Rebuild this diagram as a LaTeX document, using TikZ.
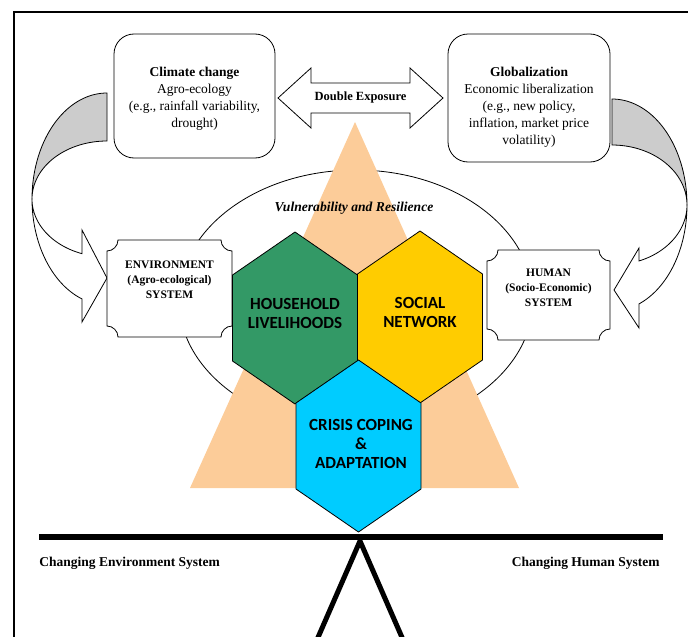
\documentclass[tikz,border=0pt]{standalone}
\usepackage{fontspec}
\setmainfont{Liberation Serif}
\newfontfamily\hexfont{Carlito}
\definecolor{tri}{RGB}{252,204,153}
\definecolor{hgreen}{RGB}{51,153,102}
\definecolor{hyellow}{RGB}{255,204,0}
\definecolor{hcyan}{RGB}{0,204,255}
\newcommand\myhex[3]{\filldraw[fill=#3, line width=0.8pt] (#1,{#2-86}) -- ({#1+62.5},{#2-43}) -- ({#1+62.5},{#2+43}) -- (#1,{#2+86}) -- ({#1-62.5},{#2+43}) -- ({#1-62.5},{#2-43}) -- cycle;}
\newcommand\plaque[4]{\filldraw[fill=white, line width=0.8pt] ({#1+11},#2) -- ({#3-11},#2) .. controls ({#3-11},{#2+6}) and ({#3-6},{#2+11}) .. (#3,{#2+11}) -- (#3,{#4-11}) .. controls ({#3-6},{#4-11}) and ({#3-11},{#4-6}) .. ({#3-11},#4) -- ({#1+11},#4) .. controls ({#1+11},{#4-6}) and ({#1+6},{#4-11}) .. (#1,{#4-11}) -- (#1,{#2+11}) .. controls ({#1+6},{#2+11}) and ({#1+11},{#2+6}) .. ({#1+11},#2) -- cycle;}
\begin{document}
\begin{tikzpicture}[x=1pt,y=-1pt,line width=0.8pt,
  rbox/.style={draw, line width=0.8pt, rounded corners=20pt, inner sep=0pt},
  txt/.style={align=center, inner sep=0pt, font=\fontsize{13.5}{17}\selectfont},
  systxt/.style={align=center, inner sep=0pt, font=\bfseries\fontsize{11.5}{15}\selectfont},
  hextxt/.style={align=center, inner sep=0pt, font=\hexfont\bfseries\fontsize{17}{19}\selectfont},
  bottxt/.style={inner sep=0pt, font=\bfseries\fontsize{13.5}{16}\selectfont},
  band/.style={line width=0.8pt, draw=black}]
\useasboundingbox (0,0) rectangle (688,637);
% frame
\draw[line width=1.5pt] (14,640) -- (14,12) -- (690,12);
% ellipse
\draw (356,300) ellipse [x radius=177pt, y radius=130pt];
% triangle
\fill[tri] (355,122) -- (190,488) -- (519,488) -- cycle;
\node[inner sep=0pt, font=\bfseries\itshape\fontsize{13.6}{16}\selectfont] (vr) at (354,208) {Vulnerability and Resilience};
% top boxes
\node[rbox, minimum width=161pt, minimum height=124pt] (climate) at (194.5,96) {};
\node[rbox, minimum width=162pt, minimum height=128pt] (glob) at (529,98) {};
\node[txt] (climtxt) at (194.5,99) {\textbf{Climate change}\\Agro-ecology\\(e.g., rainfall variability,\\drought)};
\node[txt] (globtxt) at (529,107) {\textbf{Globalization}\\Economic liberalization\\(e.g., new policy,\\inflation, market price\\volatility)};
% double arrow
\draw[fill=white] (278,98) -- (311,68) -- (311,83) -- (410,83) -- (410,68) -- (443,98) -- (410,128) -- (410,113) -- (311,113) -- (311,128) -- cycle;
\node[inner sep=0pt, font=\bfseries\fontsize{12.5}{15}\selectfont] (dexp) at (360.5,97) {Double Exposure};
% left curved arrow
\filldraw[band, fill=black!20] plot[domain=0:90, samples=40] ({107-75*sin(\x)},{199-106*cos(\x)}) -- plot[domain=90:0, samples=40] ({107-75*sin(\x)},{199-58*cos(\x)}) -- cycle;
\filldraw[band, fill=white] plot[domain=90:160.5, samples=40] ({107-75*sin(\x)},{199-106*cos(\x)}) -- (82,322) -- (107,278) -- (82,230) -- plot[domain=160.5:90, samples=40] ({107-75*sin(\x)},{199-58*cos(\x)}) -- cycle;
% right curved arrow
\filldraw[band, fill=black!20] plot[domain=0:90, samples=40] ({612+75*sin(\x)},{205-106*cos(\x)}) -- plot[domain=90:0, samples=40] ({612+75*sin(\x)},{205-60*cos(\x)}) -- cycle;
\filldraw[band, fill=white] plot[domain=90:158.9, samples=40] ({612+75*sin(\x)},{205-106*cos(\x)}) -- (639,328) -- (614,290) -- (639,248) -- plot[domain=158.9:90, samples=40] ({612+75*sin(\x)},{205-60*cos(\x)}) -- cycle;
% system boxes
\plaque{107}{240}{232}{337}
\plaque{487}{250}{610}{340}
\node[systxt] (envtxt) at (169.5,280) {ENVIRONMENT\\(Agro-ecological)\\SYSTEM};
\node[systxt] (humtxt) at (548.5,288) {HUMAN\\(Socio-Economic)\\SYSTEM};
% hexagons
\myhex{295}{318}{hgreen}
\myhex{420}{317}{hyellow}
\myhex{358.5}{446}{hcyan}
\node[hextxt] (hh) at (295,313.5) {HOUSEHOLD\\LIVELIHOODS};
\node[hextxt] (sn) at (420,312) {SOCIAL\\NETWORK};
\node[hextxt] (cc) at (361,443.5) {CRISIS COPING\\\&\\ADAPTATION};
% balance
\draw[line width=5.5pt] (39,537) -- (663,537);
\draw[line width=5pt, miter limit=20] (316,642) -- (360,541) -- (404,642);
\node[bottxt, anchor=west] (cenv) at (39,563) {Changing Environment System};
\node[bottxt, anchor=east] (chum) at (660,563) {Changing Human System};
\end{tikzpicture}
\end{document}
